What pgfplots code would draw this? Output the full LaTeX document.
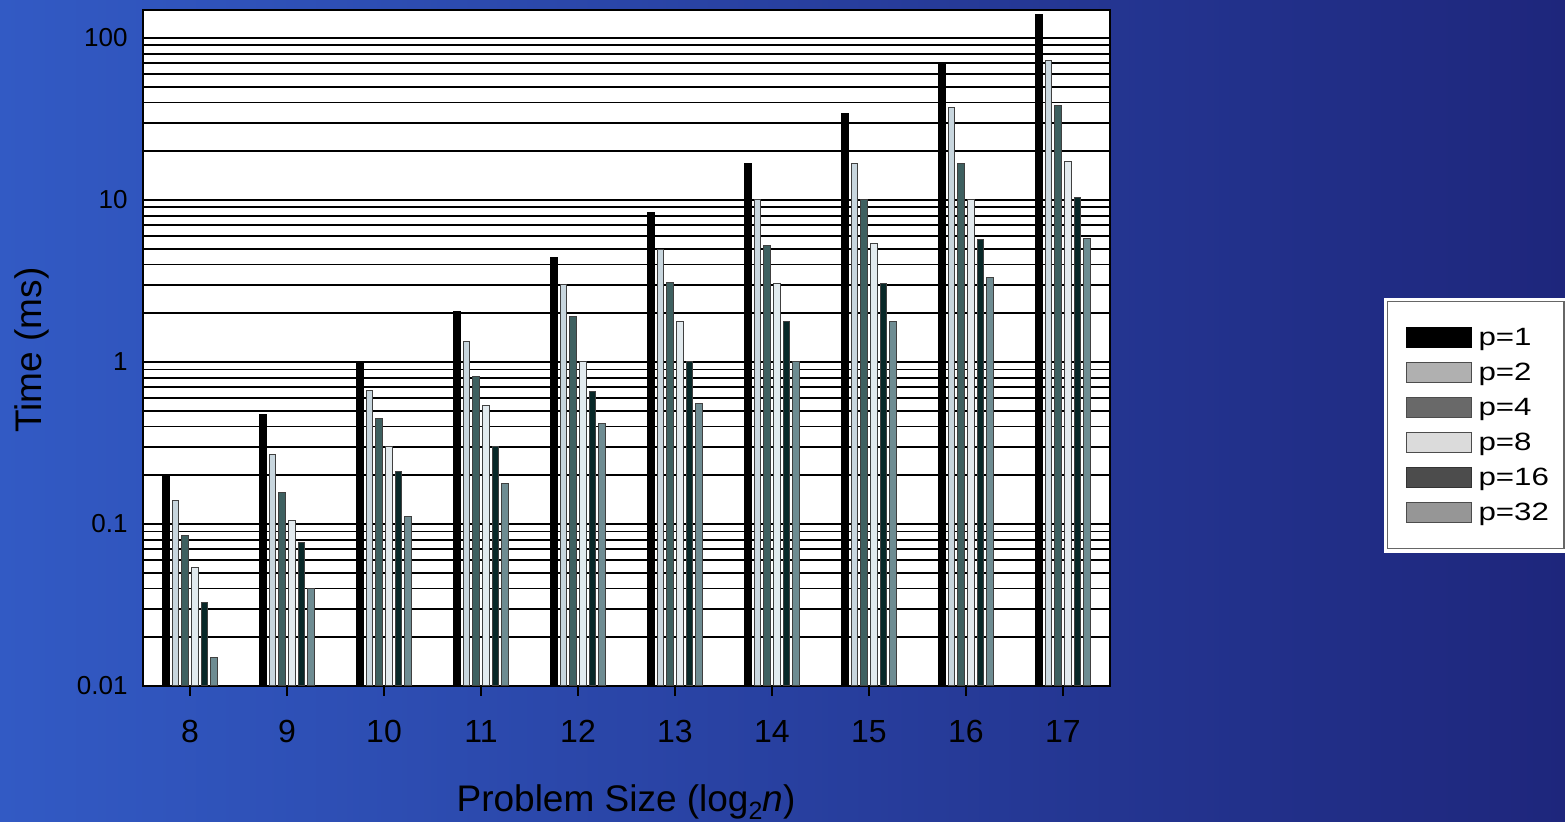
\documentclass[border=0pt]{standalone}
\usepackage{fontspec}
\setmainfont{Liberation Sans}
\usepackage{pgfplots}
\pgfplotsset{compat=1.18}
\usepackage{pgfplotstable}

\definecolor{bgL}{RGB}{50,90,196}
\definecolor{bgR}{RGB}{30,38,124}
\definecolor{cA}{RGB}{0,0,0}
\definecolor{cB}{RGB}{200,214,222}
\definecolor{cC}{RGB}{62,96,96}
\definecolor{cD}{RGB}{226,234,238}
\definecolor{cE}{RGB}{8,40,40}
\definecolor{cF}{RGB}{110,140,146}

\pgfplotstableread{
x  p1    p2     p4     p8     p16    p32
8  0.2   0.139  0.0847 0.0537 0.0329 0.0151
9  0.477 0.267  0.157  0.105  0.0767 0.0399
10 1.0   0.67   0.445  0.30   0.21   0.112
11 2.06  1.33   0.81   0.535  0.30   0.177
12 4.4   3.02   1.9    1.0    0.66   0.42
13 8.4   4.96   3.1    1.77   1.0    0.556
14 16.9  10.0   5.2    3.07   1.77   1.0
15 34.4  16.9   10.0   5.35   3.07   1.79
16 69    37     16.9   10.0   5.74   3.3
17 140   72.4   38.4   17.2   10.4   5.8
}\datatable

\begin{document}
\begin{tikzpicture}
\path[use as bounding box] (0,0) rectangle (782.5pt,411pt);
\shade[left color=bgL, right color=bgR] (0,0) rectangle (782.5pt,411pt);
\begin{axis}[
  at={(71.5pt,68pt)}, anchor=south west,
  scale only axis, width=483.5pt, height=338pt,
  ymode=log, log origin=infty,
  ymin=0.01, ymax=148.9, xmin=7.515, xmax=17.485,
  axis background/.style={fill=white},
  axis line style={black, line width=0.75pt},
  xtick={8,...,17}, xticklabels={8,9,10,11,12,13,14,15,16,17},
  ytick={0.01,0.1,1,10,100}, yticklabels={0.01,0.1,1,10,100},
  xtick pos=left,
  tick align=outside, major tick length=5pt, minor tick length=0pt,
  xtick style={black, line width=0.6pt},
  ytick style={draw=none},
  ymajorgrids, yminorgrids,
  major grid style={black, line width=0.9pt},
  minor grid style={black, line width=0.9pt},
  xticklabel style={font=\fontsize{16}{19}\selectfont, anchor=base, yshift=-23.5pt},
  yticklabel style={font=\fontsize{13}{15}\selectfont, anchor=east, inner sep=0pt, xshift=-2.5pt},
  ylabel={Time (ms)},
  ylabel style={font=\fontsize{18.5}{22}\selectfont, at={(axis description cs:-0.115,0.497)}, anchor=center},
  xlabel={Problem Size (log\raisebox{-4pt}{\fontsize{12.5}{12.5}\selectfont 2}\textit{n})},
  xlabel style={font=\fontsize{18.5}{22}\selectfont, at={(axis description cs:0.4995,-0.186)}, anchor=base},
  legend image code/.code={\draw[#1] (0pt,-5pt) rectangle (32.5pt,5pt);},
  legend style={at={(axis description cs:1.2864,0.5695)}, anchor=north west,
    draw=black!60, line width=0.6pt, fill=white,
    preaction={draw=white, line width=4pt},
    inner xsep=7.5pt, inner ysep=11pt, row sep=3.5pt, column sep=1.5pt,
    font=\fontsize{12.5}{15}\selectfont,
    nodes={inner sep=0pt, text height=9pt, text depth=1pt}},
  legend cell align=left,
  bar width=0.068,
]
\addlegendimage{fill=black, draw=black}
\addlegendimage{fill=black!31, draw=black!70}
\addlegendimage{fill=black!59, draw=black!70}
\addlegendimage{fill=black!14, draw=black!70}
\addlegendimage{fill=black!70, draw=black!80}
\addlegendimage{fill=black!41, draw=black!70}
\addplot[ybar, bar shift=-0.25, fill=cA, draw=black, line width=0.5pt, forget plot] table[x=x,y=p1]{\datatable};
\addplot[ybar, bar shift=-0.15, fill=cB, draw=black!75, line width=0.5pt, forget plot] table[x=x,y=p2]{\datatable};
\addplot[ybar, bar shift=-0.05, fill=cC, draw=black!75, line width=0.5pt, forget plot] table[x=x,y=p4]{\datatable};
\addplot[ybar, bar shift=0.05, fill=cD, draw=black!75, line width=0.5pt, forget plot] table[x=x,y=p8]{\datatable};
\addplot[ybar, bar shift=0.15, fill=cE, draw=black!75, line width=0.5pt, forget plot] table[x=x,y=p16]{\datatable};
\addplot[ybar, bar shift=0.25, fill=cF, draw=black!75, line width=0.5pt, forget plot] table[x=x,y=p32]{\datatable};
\legend{\scalebox{1.25}[1]{p=1},\scalebox{1.25}[1]{p=2},\scalebox{1.25}[1]{p=4},\scalebox{1.25}[1]{p=8},\scalebox{1.25}[1]{p=16},\scalebox{1.25}[1]{p=32}}
\end{axis}
\end{tikzpicture}
\end{document}
